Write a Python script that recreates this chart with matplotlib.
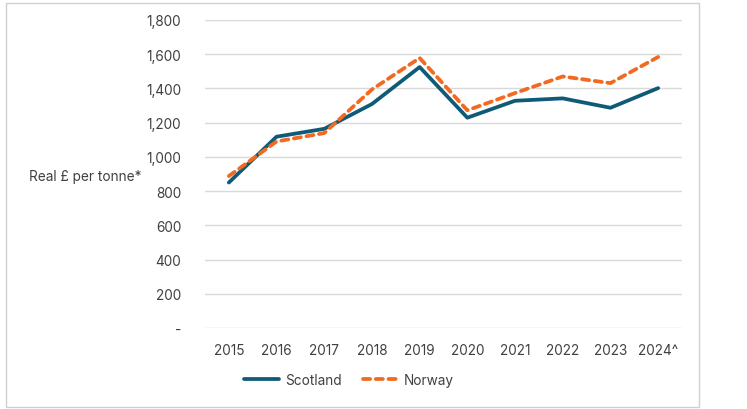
import matplotlib.pyplot as plt
from matplotlib.patches import Rectangle
from matplotlib.ticker import FuncFormatter

years = ['2015', '2016', '2017', '2018', '2019', '2020', '2021', '2022', '2023', '2024^']
scotland = [850, 1118, 1164, 1309, 1525, 1229, 1328, 1342, 1287, 1402]
norway = [888, 1090, 1139, 1394, 1578, 1272, 1373, 1470, 1431, 1584]

plt.rcParams['font.family'] = ['Inter', 'DejaVu Sans']
TXT = '#404040'

fig = plt.figure(figsize=(7.47, 4.10), dpi=100)
W, H = 747, 410

# chart area border
fig.patches.append(Rectangle((6 / W, 2 / H), 693 / W, 404 / H, transform=fig.transFigure,
                             fill=False, edgecolor='#d0d0d0', linewidth=1))

ax = fig.add_axes([205 / W, 1 - 329 / H, 477 / W, 308 / H])
x = range(len(years))
ax.plot(x, scotland, color='#0F5A77', linewidth=2.7, solid_capstyle='round', label='Scotland')
ax.plot(x, norway, color='#F26A21', linewidth=2.7, linestyle=(0, (1.9, 1.5)),
        dash_capstyle='round', label='Norway')

ax.set_xlim(-0.5, len(years) - 0.5)
ax.set_ylim(0, 1800)
ax.set_yticks(range(0, 1801, 200))
ax.yaxis.set_major_formatter(FuncFormatter(lambda v, p: '-' if v == 0 else f'{int(v):,}'))
ax.set_xticks(list(x))
ax.set_xticklabels(years)
ax.grid(axis='y', color='#d9d9d9', linewidth=1)
ax.set_axisbelow(True)
for s in ax.spines.values():
    s.set_visible(False)
ax.tick_params(length=0, labelsize=9.8, colors=TXT)
ax.tick_params(axis='y', pad=17)
ax.tick_params(axis='x', pad=11)

fig.text(29 / W, 1 - 177 / H, 'Real £ per tonne*', fontsize=9.8, color=TXT, va='center', ha='left')

leg = ax.legend(loc='center', bbox_to_anchor=(349 / W, 1 - 381 / H), bbox_transform=fig.transFigure,
                ncol=2, frameon=False, fontsize=9.8, handlelength=2.6, handletextpad=0.4,
                columnspacing=1.6)
for t in leg.get_texts():
    t.set_color(TXT)

fig.savefig('out.png', dpi=100)
